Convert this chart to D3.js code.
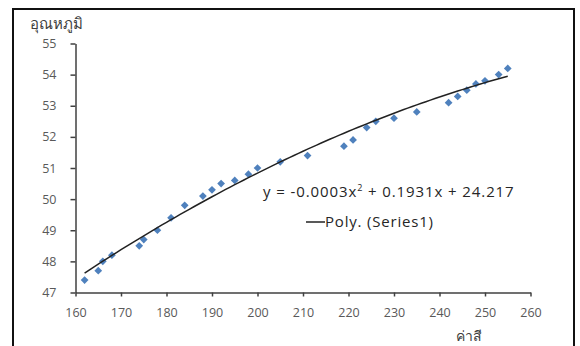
<!DOCTYPE html>
<html>
<head>
<meta charset="utf-8">
<script src="https://cdn.jsdelivr.net/npm/d3@7"></script>
<style>
  html, body { margin: 0; padding: 0; background: #fff; }
  svg { display: block; }
  .tick text { font-family: "Open Sans", "Noto Sans", sans-serif; font-size: 12.5px; fill: #595959; }
</style>
</head>
<body>
<svg id="chart" width="580" height="346"></svg>
<script>
// colour value (x) and temperature (y) for each measured sample
const colourValues = [162,165,166,168,174,175,178,181,184,188,190,192,195,198,200,205,211,219,221,224,226,230,235,242,244,246,248,250,253,255];
const temperatures = [47.4,47.7,48.0,48.2,48.5,48.7,49.0,49.4,49.8,50.1,50.3,50.5,50.6,50.8,51.0,51.2,51.4,51.7,51.9,52.3,52.5,52.6,52.8,53.1,53.3,53.5,53.7,53.8,54.0,54.2];
const xTicks = [160,170,180,190,200,210,220,230,240,250,260];
const yTicks = [47,48,49,50,51,52,53,54,55];
// second-order polynomial trend: a*x^2 + b*x + c
const polyCoefficients = [-0.0003, 0.1931, 24.217];
const xTitle = "ค่าสี";
const yTitle = "อุณหภูมิ";
const legendLabel = "Poly. (Series1)";

const svg = d3.select("#chart");

// outer frame
svg.append("rect")
  .attr("x", 13).attr("y", 9)
  .attr("width", 561).attr("height", 345)
  .attr("fill", "#fff").attr("stroke", "#111").attr("stroke-width", 2);

const x = d3.scaleLinear().domain([160, 260]).range([75.5, 530.5]);
const y = d3.scaleLinear().domain([47, 55]).range([292.5, 43.5]);

const xAxis = svg.append("g")
  .attr("transform", `translate(0,${y(47)})`)
  .call(d3.axisBottom(x).tickValues(xTicks).tickSizeInner(4).tickSizeOuter(0).tickPadding(12));
const yAxis = svg.append("g")
  .attr("transform", `translate(${x(160)},0)`)
  .call(d3.axisLeft(y).tickValues(yTicks).tickSizeInner(5).tickSizeOuter(0).tickPadding(14));
[xAxis, yAxis].forEach(g => {
  g.selectAll("path.domain").attr("stroke", "#404040").attr("stroke-width", 1.5);
  g.selectAll(".tick line").attr("stroke", "#404040").attr("stroke-width", 1.5);
});

// axis titles
svg.append("text")
  .attr("x", 30).attr("y", 29)
  .attr("font-family", "'Noto Sans', 'DejaVu Sans', sans-serif")
  .attr("font-size", 15).attr("fill", "#404040")
  .text(yTitle);
svg.append("text")
  .attr("x", 469).attr("y", 341).attr("text-anchor", "middle")
  .attr("font-family", "'Noto Sans', 'DejaVu Sans', sans-serif")
  .attr("font-size", 14).attr("fill", "#404040")
  .text(xTitle);

// data markers
const points = colourValues.map((v, i) => ({ x: v, y: temperatures[i] }));
svg.append("g").selectAll("path")
  .data(points)
  .join("path")
  .attr("d", d3.symbol(d3.symbolSquare, 30))
  .attr("transform", d => `translate(${x(d.x)},${y(d.y)}) rotate(45)`)
  .attr("fill", "#4f81bd");

// trend line evaluated across the data range
const [a, b, c] = polyCoefficients;
const poly = v => a * v * v + b * v + c;
const [xMin, xMax] = d3.extent(colourValues);
const trend = d3.range(xMin, xMax + 0.001, 1).map(v => ({ x: v, y: poly(v) }));
svg.append("path")
  .datum(trend)
  .attr("fill", "none")
  .attr("stroke", "#222")
  .attr("stroke-width", 1.5)
  .attr("d", d3.line().x(d => x(d.x)).y(d => y(d.y)));

// trend equation
const eq = svg.append("text")
  .attr("x", 263).attr("y", 197)
  .attr("font-family", "'Open Sans', sans-serif")
  .attr("font-size", 15).attr("letter-spacing", 0.9).attr("fill", "#262626");
eq.append("tspan").text(`y = ${a}x`);
eq.append("tspan").attr("font-size", 9).attr("dy", -6).text("2");
eq.append("tspan").attr("dy", 6).text(` + ${b}x + ${c}`);

// legend entry
svg.append("line")
  .attr("x1", 306).attr("x2", 325).attr("y1", 222).attr("y2", 222)
  .attr("stroke", "#222").attr("stroke-width", 1.5);
svg.append("text")
  .attr("x", 325).attr("y", 227)
  .attr("font-family", "'Open Sans', sans-serif")
  .attr("font-size", 15).attr("letter-spacing", 0.8).attr("fill", "#262626")
  .text(legendLabel);
</script>
</body>
</html>
